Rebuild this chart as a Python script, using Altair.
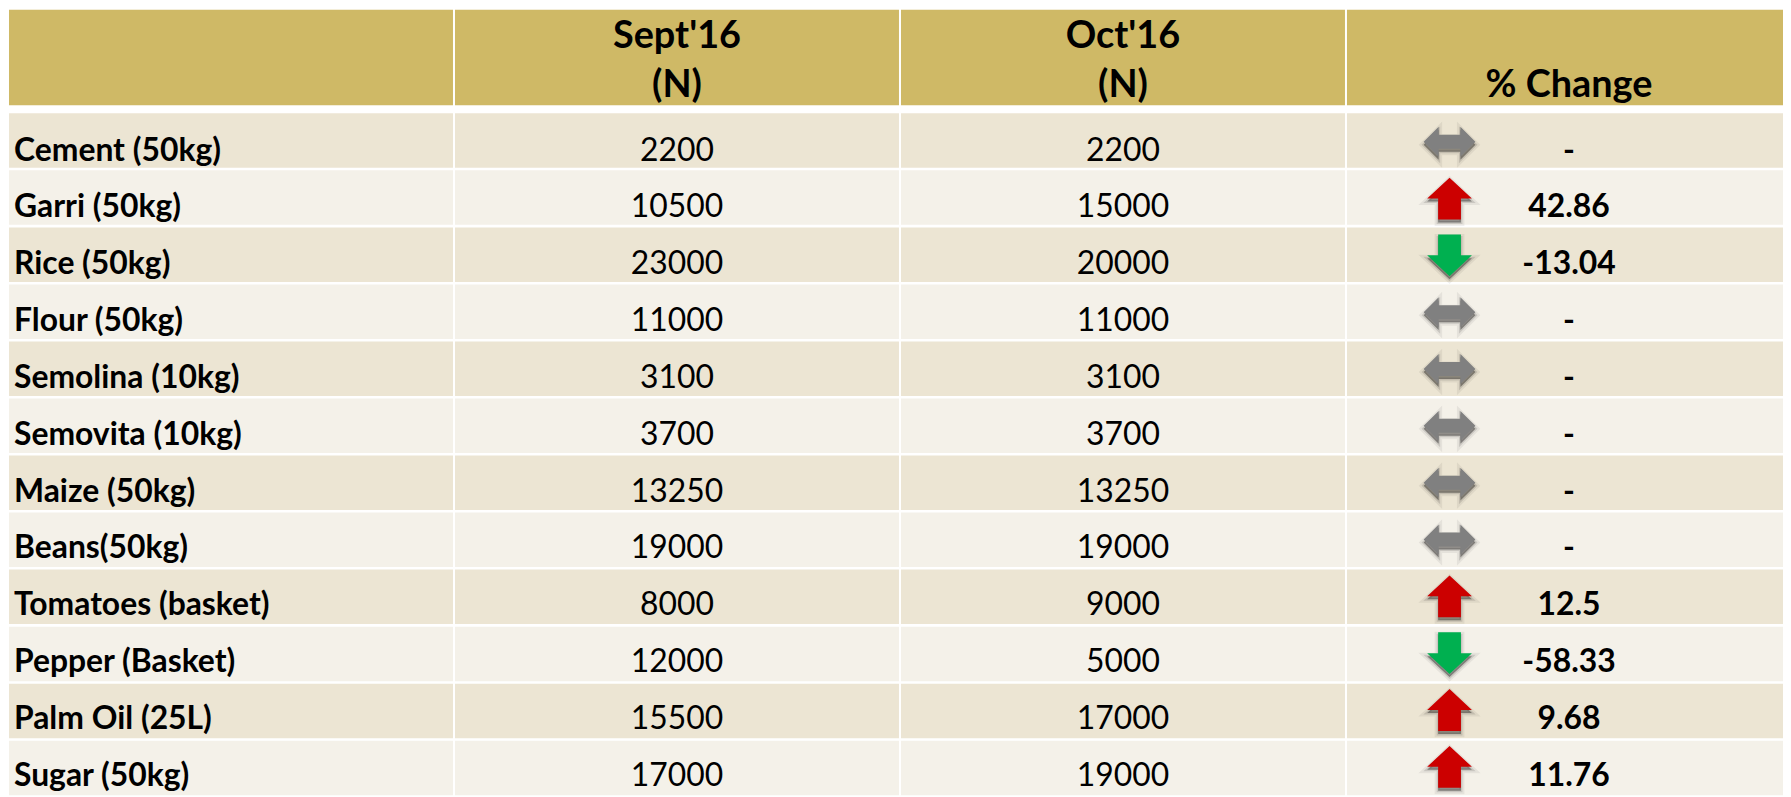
import altair as alt
import pandas as pd

# ---------------- data ----------------
items = ["Cement (50kg)", "Garri (50kg)", "Rice (50kg)", "Flour (50kg)",
         "Semolina (10kg)", "Semovita (10kg)", "Maize (50kg)", "Beans(50kg)",
         "Tomatoes (basket)", "Pepper (Basket)", "Palm Oil (25L)", "Sugar (50kg)"]
sept16 = [2200, 10500, 23000, 11000, 3100, 3700, 13250, 19000, 8000, 12000, 15500, 17000]
oct16 = [2200, 15000, 20000, 11000, 3100, 3700, 13250, 19000, 9000, 5000, 17000, 19000]
pct_change = ["-", "42.86", "-13.04", "-", "-", "-", "-", "-", "12.5", "-58.33", "9.68", "11.76"]
trend = ["flat", "up", "down", "flat", "flat", "flat", "flat", "flat", "up", "down", "up", "up"]
shade = ["dark", "light"] * 6
columns = ["item", "sept", "oct", "pct"]
header_line1 = ["", "Sept'16", "Oct'16", ""]
header_line2 = ["", "(N)", "(N)", "% Change"]

# ---------------- tables ----------------
body = pd.DataFrame({"item": items, "sept": sept16, "oct": oct16,
                     "pct": pct_change, "trend": trend, "shade": shade})
cells = pd.DataFrame([{"item": it, "col": c, "shade": sh}
                      for it, sh in zip(items, shade) for c in columns])
header = pd.DataFrame({"col": columns, "l1": header_line1, "l2": header_line2,
                       "hrow": ["h"] * 4})

HEADER_BG = "#CFB966"
ROW_DARK = "#ECE5D3"
ROW_LIGHT = "#F4F1E9"
FONT = "Lato"

UP = "M 0 -0.808 L 0.865 0 L 0.44 0 L 0.44 0.808 L -0.44 0.808 L -0.44 0 L -0.865 0 Z"
DOWN = "M 0 0.808 L 0.865 0 L 0.44 0 L 0.44 -0.808 L -0.44 -0.808 L -0.44 0 L -0.865 0 Z"
FLAT = ("M -1 0 L -0.42 -0.577 L -0.42 -0.27 L 0.42 -0.27 L 0.42 -0.577 L 1 0 "
        "L 0.42 0.577 L 0.42 0.27 L -0.42 0.27 L -0.42 0.577 Z")


def X(bp=0.5):
    return alt.X("col:N", axis=None, bandPosition=bp,
                 scale=alt.Scale(domain=columns, range=[1, 1791],
                                 paddingInner=0.0045, paddingOuter=0))


YB = alt.Y("item:N", axis=None,
           scale=alt.Scale(domain=items, range=[104, 789],
                           paddingInner=0.044, paddingOuter=0))
YH = alt.Y("hrow:N", axis=None,
           scale=alt.Scale(domain=["h"], range=[0, 96],
                           paddingInner=0, paddingOuter=0))

# ---------------- header ----------------
h_bg = alt.Chart(header).mark_rect(color=HEADER_BG).encode(x=X(), y=YH)
h_t1 = alt.Chart(header).mark_text(font=FONT, fontWeight="bold", fontSize=38,
                                   baseline="alphabetic", dy=-10, color="black").encode(
    x=X(), y=YH, text="l1:N")
h_t2 = alt.Chart(header).mark_text(font=FONT, fontWeight="bold", fontSize=38,
                                   baseline="alphabetic", dy=40, color="black").encode(
    x=X(), y=YH, text="l2:N")

# ---------------- body ----------------
b_bg = alt.Chart(cells).mark_rect().encode(
    x=X(), y=YB,
    color=alt.Color("shade:N", legend=None,
                    scale=alt.Scale(domain=["dark", "light"], range=[ROW_DARK, ROW_LIGHT])))

base = alt.Chart(body)
t_item = base.mark_text(font=FONT, fontWeight="bold", fontSize=32, align="left",
                        baseline="alphabetic", dx=5, dy=19, color="black").transform_calculate(
    col="'item'").encode(x=X(0), y=YB, text="item:N")
t_sept = base.mark_text(font=FONT, fontSize=32, baseline="alphabetic", dy=19,
                        color="black").transform_calculate(col="'sept'").encode(
    x=X(), y=YB, text=alt.Text("sept:Q", format="d"))
t_oct = base.mark_text(font=FONT, fontSize=32, baseline="alphabetic", dy=19,
                       color="black").transform_calculate(col="'oct'").encode(
    x=X(), y=YB, text=alt.Text("oct:Q", format="d"))
t_pct = base.mark_text(font=FONT, fontWeight="bold", fontSize=32, baseline="alphabetic",
                       dy=19, color="black").transform_calculate(col="'pct'").encode(
    x=X(), y=YB, text="pct:N")

shape_enc = alt.Shape("trend:N", legend=None,
                      scale=alt.Scale(domain=["up", "down", "flat"], range=[UP, DOWN, FLAT]))
shadow_wide = base.mark_point(filled=True, size=2704, color="#000000", fillOpacity=0.10,
                              stroke="#000000", strokeWidth=7, strokeOpacity=0.06).transform_calculate(
    col="'pct'").encode(x=X(0.231), y=YB, shape=shape_enc, yOffset=alt.value(3))
shadow = base.mark_point(filled=True, size=2704, color="#000000", fillOpacity=0.30,
                         stroke="#000000", strokeWidth=3, strokeOpacity=0.12).transform_calculate(
    col="'pct'").encode(x=X(0.231), y=YB, shape=shape_enc, yOffset=alt.value(3))
arrows = base.mark_point(filled=True, size=2704, opacity=1, strokeWidth=0).transform_calculate(
    col="'pct'").encode(
    x=X(0.231), y=YB, shape=shape_enc,
    color=alt.Color("trend:N", legend=None,
                    scale=alt.Scale(domain=["up", "down", "flat"],
                                    range=["#CC0000", "#00B050", "#808080"])))

chart = alt.layer(h_bg, h_t1, h_t2, b_bg, t_item, t_sept, t_oct, t_pct,
                  shadow_wide, shadow, arrows).resolve_scale(
    y="independent", color="independent").properties(
    width=1783, height=789, padding=0,
    autosize=alt.AutoSizeParams(type="none"), background="white"
).configure_view(stroke=None)

chart.save("out.html", embed_options={"renderer": "svg", "actions": False})
